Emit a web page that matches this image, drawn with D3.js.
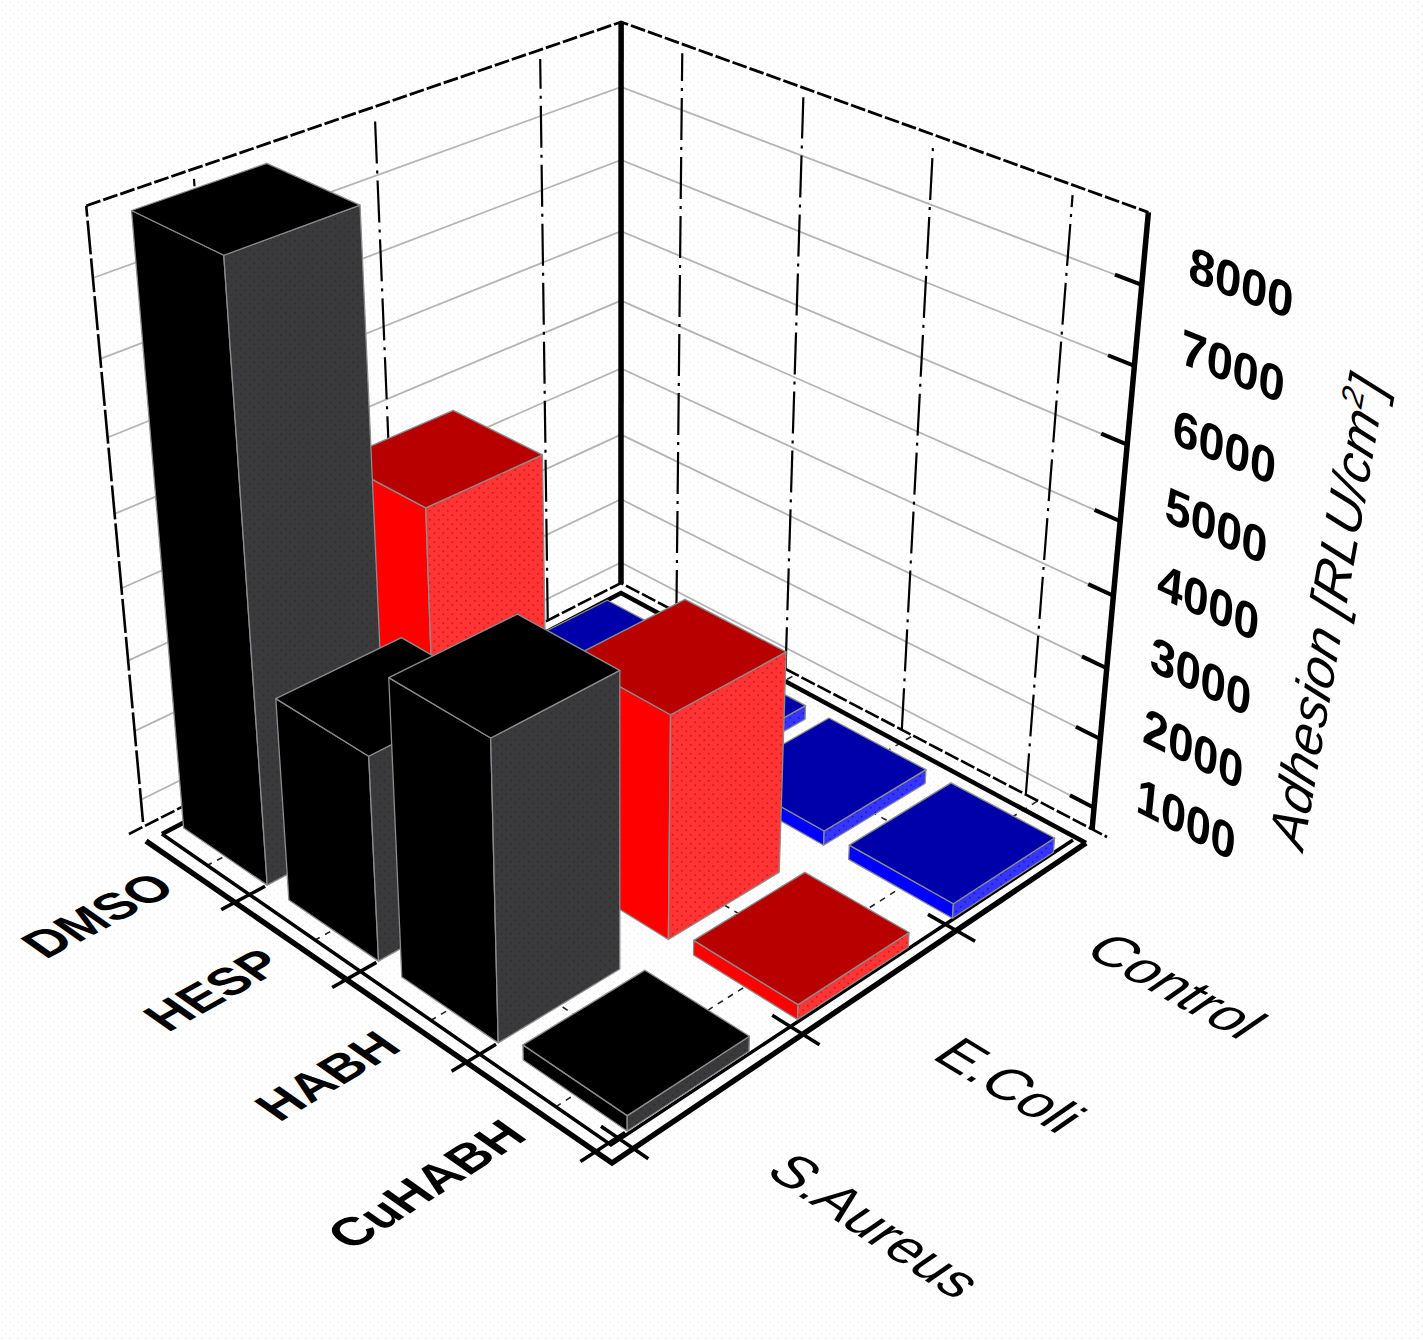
<!DOCTYPE html>
<html><head><meta charset="utf-8">
<script src="https://cdn.jsdelivr.net/npm/d3@7"></script>
<style>html,body{margin:0;padding:0;background:#fff}svg{display:block}text{font-family:"Liberation Sans",Arial,sans-serif;fill:#000}</style>
</head><body><svg id="c" width="1423" height="1340"></svg>
<script>
const categories = ["DMSO","HESP","HABH","CuHABH"];
const seriesNames = ["S.Aureus","E.Coli","Control"];
const sAureus = [8870,3490,4700,880];
const eColi   = [4760,850,3770,880];
const control = [880,880,880,880];
const zTicks  = [1000,2000,3000,4000,5000,6000,7000,8000];
const zDomain = [670,8870];
const seriesValues = [sAureus,eColi,control];
const palette = [
 {left:"#000000",right:"#3a3a3a",top:"#000000",dot:"#2b2b48"},
 {left:"#ff0000",right:"#ff3535",top:"#b80000",dot:"#d81818"},
 {left:"#0000ff",right:"#3535ff",top:"#0000aa",dot:"#1818d0"}];

/* camera: floor corners of the wall base and vertical vanishing point */
const L=[143,822],F=[611,1145],R=[1092,830],B=[621,583],V=[620,6000],backTopY=22;
const dx1=F[0]-R[0],dx2=B[0]-R[0],sx=L[0]-F[0]+R[0]-B[0],dy1=F[1]-R[1],dy2=B[1]-R[1],sy=L[1]-F[1]+R[1]-B[1];
const det=dx1*dy2-dx2*dy1,g=(sx*dy2-dx2*sy)/det,h=(dx1*sy-sx*dy1)/det;
const a=F[0]-L[0]+g*F[0],b=B[0]-L[0]+h*B[0],d=F[1]-L[1]+g*F[1],e=B[1]-L[1]+h*B[1];
const k=(1+h)*(backTopY-B[1])/(V[1]-backTopY);
const zS=d3.scaleLinear().domain(zDomain).range([0,1]);
function P(u,v,val){const t=zS(val),X=a*u+b*v+L[0]+k*t*V[0],Y=d*u+e*v+L[1]+k*t*V[1],W=g*u+h*v+1+k*t;return [X/W,Y/W];}
const uS=d3.scaleBand().domain(categories).range([0,1]).paddingInner(.2).paddingOuter(.12).align(.92);
const vS=d3.scaleBand().domain(seriesNames).range([0,1]).paddingInner(.295).paddingOuter(.1836).align(.2845);
const z0=zDomain[0],z1=zDomain[1];
const svg=d3.select("#c"),line=d3.line();

const defs=svg.append("defs");
function dots(id,bg,dot,s,r){const p=defs.append("pattern").attr("id",id).attr("width",s).attr("height",s).attr("patternUnits","userSpaceOnUse");
 p.append("rect").attr("width",s).attr("height",s).attr("fill",bg);
 p.append("circle").attr("cx",s/4).attr("cy",s/4).attr("r",r).attr("fill",dot);
 p.append("circle").attr("cx",3*s/4).attr("cy",3*s/4).attr("r",r).attr("fill",dot);}
dots("bgd","#ffffff","#eef3f3",8,1);
palette.forEach((c,i)=>dots("f"+i,c.right,c.dot,9,1));
svg.append("rect").attr("width",1423).attr("height",1340).attr("fill","url(#bgd)");

const gWall=svg.append("g"),gFrame=svg.append("g"),gBars=svg.append("g"),gText=svg.append("g");
function seg(g,p,q,w,c,dash){g.append("path").attr("d",line([p,q])).attr("stroke",c).attr("stroke-width",w).attr("fill","none").attr("stroke-dasharray",dash||null);}
function poly(g,pts,w,c,dash){g.append("path").attr("d",line(pts)).attr("stroke",c).attr("stroke-width",w).attr("fill","none").attr("stroke-dasharray",dash||null).attr("stroke-linejoin","miter");}

/* wall gridlines */
zTicks.forEach(t=>poly(gWall,[P(0,0,t),P(0,1,t),P(1,1,t)],1.8,"#b8b3b3"));
/* dash-dot verticals on the walls, dashed lines on the floor */
categories.forEach(c=>{const u=uS(c)+uS.bandwidth()/2;seg(gWall,P(u-.022,1,z0),P(u-.022,1,z1-120),2.2,"#000","42 7 3 7");
  seg(gWall,P(u,0,z0),P(u,1,z0),1.6,"#222","6 6");});
seriesNames.forEach(s=>{const v=vS(s)+vS.bandwidth()/2;seg(gWall,P(0,v+.03,z0),P(0,v+.03,z1-120),2.2,"#000","42 7 3 7");
  seg(gWall,P(0,v,z0),P(1,v,z0),1.6,"#222","6 6");});
/* box */
seg(gFrame,P(0,0,z0),P(0,0,z1),2.6,"#000","34 4");
poly(gFrame,[P(0,0,z1),P(0,1,z1),P(1,1,z1)],2.8,"#000","15 3");
seg(gFrame,P(0,1,z0),P(0,1,z1),5.5,"#000");
seg(gFrame,P(1,1,z0),P(1,1,z1),5.5,"#000");
zTicks.forEach(t=>seg(gFrame,P(1,1,t),P(.955,1,t),4,"#000"));
/* floor frame */
poly(gFrame,[[129,834],B,[1107,837]],2.6,"#000","15 3");
poly(gFrame,[[162,834],[621,593],[1086,843]],4.5,"#000");
poly(gFrame,[[162,834],[611,1145],[1073,840]],3.5,"#000");
poly(gFrame,[[146,841],[612,1163],[1086,843]],5.5,"#000");
categories.forEach(c=>{const u=uS(c)+uS.bandwidth();seg(gFrame,P(u,-.05,z0),P(u,.03,z0),3.5,"#000");});
seriesNames.forEach(s=>{const v=vS(s)-.018;seg(gFrame,P(.965,v,z0),P(1.052,v,z0),3.5,"#000");});

/* bars, far to near */
const bars=[];
seriesNames.forEach((s,si)=>categories.forEach((c,ci)=>bars.push({s,si,c,ci,val:seriesValues[si][ci]})));
bars.sort((p,q)=>d3.descending(p.si,q.si)||d3.ascending(p.ci,q.ci));
const bar=gBars.selectAll("g").data(bars).join("g");
const edge="#8c8c8c";
function face(sel,fn,fill){sel.append("path").attr("d",d=>line(fn(d))+"Z").attr("fill",fill).attr("stroke",edge).attr("stroke-width",1.3).attr("stroke-linejoin","round");}
const u0=d=>uS(d.c),u1=d=>uS(d.c)+uS.bandwidth(),v0=d=>vS(d.s),v1=d=>vS(d.s)+vS.bandwidth();
face(bar,d=>[P(u0(d),v0(d),z0),P(u1(d),v0(d),z0),P(u1(d),v0(d),d.val),P(u0(d),v0(d),d.val)],d=>palette[d.si].left);
face(bar,d=>[P(u1(d),v0(d),z0),P(u1(d),v1(d),z0),P(u1(d),v1(d),d.val),P(u1(d),v0(d),d.val)],d=>`url(#f${d.si})`);
face(bar,d=>[P(u0(d),v0(d),d.val),P(u1(d),v0(d),d.val),P(u1(d),v1(d),d.val),P(u0(d),v1(d),d.val)],d=>palette[d.si].top);

/* text lying in the chart's planes */
function unit(p,q){const x=q[0]-p[0],y=q[1]-p[1],n=Math.hypot(x,y);return [x/n,y/n];}
function put(str,pos,ex,fy,size,opts={}){const t=gText.append("text").text(str).attr("font-size",size)
  .attr("transform",`matrix(${ex[0]},${ex[1]},${fy[0]},${fy[1]},${pos[0]},${pos[1]})`)
  .attr("text-anchor",opts.anchor||"start").attr("font-weight",opts.weight||"normal").attr("font-style",opts.style||"normal");return t;}
const xLabV=-.066,serLabU=1.173;
categories.forEach(c=>{const u=uS(c)+uS.bandwidth()*.6,pos=P(u,xLabV,z0);
  put(c,pos,unit(pos,P(u,xLabV+.2,z0)),unit(pos,P(u+.1,xLabV,z0)),50,{anchor:"end",weight:"bold"});});
seriesNames.forEach(s=>{const v=vS(s)+vS.bandwidth()*.3,pos=P(serLabU,v,z0);
  put(s,pos,unit(pos,P(serLabU+.2,v,z0)),unit(pos,P(serLabU,v-.1,z0)),56);});
zTicks.forEach(t=>{const pos=P(1.072,1,t+250);
  put(d3.format("d")(t),pos,unit(pos,P(1.272,1,t+250)),unit(P(1.072,1,t+500),pos),50,{weight:"bold"});});
const title=put("",[1303,852],[.174,-.985],[.93,.37],53,{style:"italic"});
title.append("tspan").text("Adhesion [RLU/cm");
title.append("tspan").text("2").attr("font-size",32).attr("dy",-20);
title.append("tspan").text("]").attr("dy",20);
</script></body></html>
